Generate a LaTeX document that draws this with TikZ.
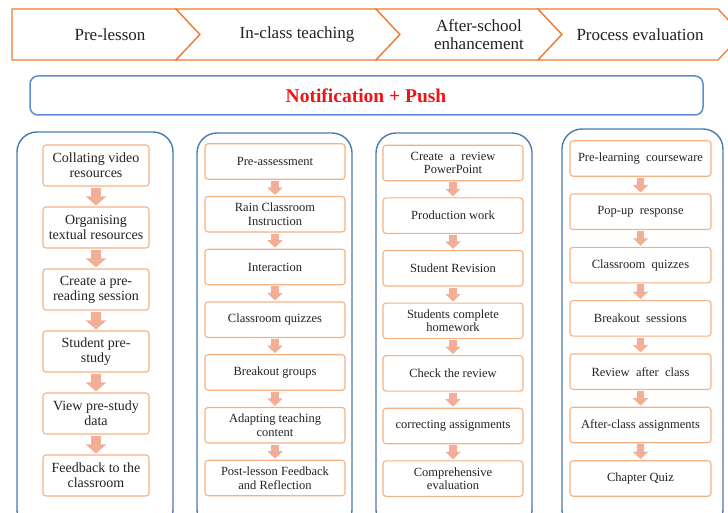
\documentclass[tikz,border=0pt]{standalone}
\usepackage{fontspec}
\setmainfont{Liberation Serif}
\usetikzlibrary{arrows.meta}
\definecolor{chevron}{HTML}{ED7D31}
\definecolor{notif}{HTML}{5B8BD6}
\definecolor{colbox}{HTML}{4A7AAE}
\definecolor{stepline}{HTML}{F4B183}
\definecolor{arrowfill}{HTML}{F2AE96}
\definecolor{txt}{HTML}{222222}
\tikzset{
  chev/.style={draw=chevron, line width=1.3pt, fill=white, line join=miter},
  headtxt/.style={text=txt, font=\fontsize{17}{18}\selectfont, align=center, inner sep=0pt},
  colframe/.style={draw=colbox, line width=1.4pt, rounded corners=20pt},
  stepbox/.style={draw=stepline, line width=1.1pt, rounded corners=3pt, text=txt, align=center, inner sep=1pt},
  stepA/.style={stepbox, minimum width=106pt, minimum height=41pt, font=\fontsize{14}{15}\selectfont},
  stepB/.style={stepbox, minimum width=140pt, minimum height=35.5pt, font=\fontsize{12.5}{13.5}\selectfont},
  flowA/.style={draw=arrowfill, line width=10pt, -{Triangle[width=20pt,length=9pt]}, shorten <=1pt, shorten >=1pt},
  flowB/.style={draw=arrowfill, line width=7.5pt, -{Triangle[width=15pt,length=7.5pt]}, shorten <=1pt, shorten >=1pt},
}
\begin{document}
\begin{tikzpicture}[x=1pt,y=-1pt]
\useasboundingbox (0,0) rectangle (728,513);
\begin{scope}
\clip (0,0) rectangle (728,513);
% header chevrons
\draw[chev] (12,9) -- (176,9) -- (200,34.5) -- (176,60) -- (12,60) -- cycle;
\draw[chev] (176,9) -- (376,9) -- (400,34.5) -- (376,60) -- (176,60) -- (200,34.5) -- cycle;
\draw[chev] (376,9) -- (538,9) -- (562,34.5) -- (538,60) -- (376,60) -- (400,34.5) -- cycle;
\draw[chev] (538,9) -- (718,9) -- (742,34.5) -- (718,60) -- (538,60) -- (562,34.5) -- cycle;
\node[headtxt] (h1) at (110,34.5) {Pre-lesson};
\node[headtxt] (h2) at (297,34.5) {In-class teaching};
\node[headtxt, font=\fontsize{17}{18}\selectfont] (h3) at (479,34.5) {After-school\\enhancement};
\node[headtxt] (h4) at (640,34.5) {Process evaluation};

% notification bar
\draw[draw=notif, line width=1.5pt, rounded corners=8pt] (30,76) rectangle (703,115);
\node[text={rgb,255:red,240;green,20;blue,20}, font=\bfseries\fontsize{19.5}{21}\selectfont] (notif) at (366,96) {Notification + Push};

% column frames
\draw[colframe] (17,132) rectangle (173,530);
\draw[colframe] (197,133) rectangle (352,530);
\draw[colframe] (376,133) rectangle (532,530);
\draw[colframe] (562,129) rectangle (723,530);

% column 1
\node[stepA] (a1) at (96,165.5) {Collating video\\resources};
\node[stepA] (a2) at (96,227.5) {Organising\\textual resources};
\node[stepA] (a3) at (96,289.5) {Create a pre-\\reading session};
\node[stepA] (a4) at (96,351.5) {Student pre-\\study};
\node[stepA] (a5) at (96,413.5) {View pre-study\\data};
\node[stepA] (a6) at (96,475.5) {Feedback to the\\classroom};
\foreach \i/\j in {a1/a2,a2/a3,a3/a4,a4/a5,a5/a6} \draw[flowA] (\i.south) -- (\j.north);

% column 2
\node[stepB] (b1) at (275,161.5) {Pre-assessment};
\node[stepB] (b2) at (275,214.25) {Rain Classroom\\Instruction};
\node[stepB] (b3) at (275,267) {Interaction};
\node[stepB] (b4) at (275,319.75) {Classroom quizzes};
\node[stepB] (b5) at (275,372.5) {Breakout groups};
\node[stepB] (b6) at (275,425.25) {Adapting teaching\\content};
\node[stepB] (b7) at (275,478) {Post-lesson Feedback\\and Reflection};
\foreach \i/\j in {b1/b2,b2/b3,b3/b4,b4/b5,b5/b6,b6/b7} \draw[flowB] (\i.south) -- (\j.north);

% column 3
\node[stepB] (c1) at (453,163) {Create\ \ a\ \ review\\PowerPoint};
\node[stepB] (c2) at (453,215.6) {Production work};
\node[stepB] (c3) at (453,268.2) {Student Revision};
\node[stepB] (c4) at (453,320.8) {Students complete\\homework};
\node[stepB] (c5) at (453,373.4) {Check the review};
\node[stepB] (c6) at (453,426) {correcting assignments};
\node[stepB] (c7) at (453,478.6) {Comprehensive\\evaluation};
\foreach \i/\j in {c1/c2,c2/c3,c3/c4,c4/c5,c5/c6,c6/c7} \draw[flowB] (\i.south) -- (\j.north);

% column 4
\node[stepB, minimum width=141pt] (d1) at (640.5,158.5) {Pre-learning\ \ courseware};
\node[stepB, minimum width=141pt] (d2) at (640.5,211.8) {Pop-up\ \ response};
\node[stepB, minimum width=141pt] (d3) at (640.5,265.1) {Classroom\ \ quizzes};
\node[stepB, minimum width=141pt] (d4) at (640.5,318.4) {Breakout\ \ sessions};
\node[stepB, minimum width=141pt] (d5) at (640.5,371.7) {Review\ \ after\ \ class};
\node[stepB, minimum width=141pt] (d6) at (640.5,425) {After-class assignments};
\node[stepB, minimum width=141pt] (d7) at (640.5,478.5) {Chapter Quiz};
\foreach \i/\j in {d1/d2,d2/d3,d3/d4,d4/d5,d5/d6,d6/d7} \draw[flowB] (\i.south) -- (\j.north);
\end{scope}
\end{tikzpicture}
\end{document}
